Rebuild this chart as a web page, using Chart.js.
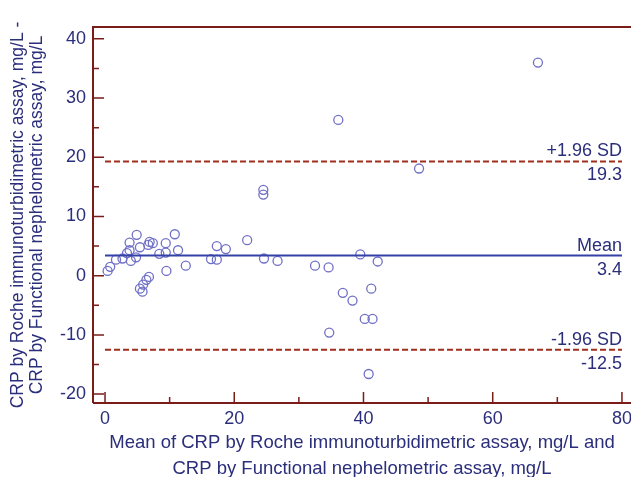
<!DOCTYPE html>
<html>
<head>
<meta charset="utf-8">
<script src="https://cdn.jsdelivr.net/npm/chart.js@4/dist/chart.umd.min.js"></script>
<style>
  html, body { margin: 0; padding: 0; background: #fff; }
  #wrap { width: 631px; height: 477px; position: relative; }
</style>
</head>
<body>
<div id="wrap"><canvas id="bland"></canvas></div>
<script>
// Mean of the two assays (x) and their difference (y)
const meanValues = [
  0.4, 0.8, 1.7, 2.7, 3.4, 3.8, 4.0, 3.8, 4.9, 4.8,
  5.4, 6.7, 6.9, 7.4, 6.8, 6.4, 5.9, 5.4, 5.8, 8.4,
  9.4, 9.4, 10.8, 11.3, 9.5, 12.5, 16.4, 17.3, 17.3, 18.7,
  22.0, 24.5, 24.5, 24.6, 26.7, 32.5, 34.6, 36.1, 39.5, 42.2,
  41.2, 36.8, 38.3, 40.2, 41.4, 34.7, 40.8, 48.6, 67.0
];
const diffValues = [
  0.8, 1.5, 2.7, 2.9, 3.8, 4.3, 2.5, 5.6, 6.9, 3.1,
  4.8, 5.2, 5.7, 5.5, -0.2, -0.7, -1.5, -2.2, -2.7, 3.7,
  5.5, 3.9, 7.0, 4.3, 0.8, 1.7, 2.8, 5.0, 2.7, 4.5,
  6.0, 14.5, 13.7, 2.9, 2.5, 1.7, 1.4, 26.3, 3.6, 2.4,
  -2.2, -2.9, -4.2, -7.3, -7.3, -9.6, -16.6, 18.1, 36.0
];

// Reference lines: name, value
const limitNames = ['+1.96 SD', 'Mean', '-1.96 SD'];
const limitValues = [19.3, 3.4, -12.5];
const limitSpan = [0, 80];

const xTicks = [0, 20, 40, 60, 80];
const yTicks = [-20, -10, 0, 10, 20, 30, 40];

const NAVY = '#2b2e7a';
const FRAME = '#7a1c18';
const FONT = '"Liberation Sans", Arial, Helvetica, sans-serif';

const points = meanValues.map((x, i) => ({ x: x, y: diffValues[i] }));

const limitSets = limitValues.map((v, i) => ({
  type: 'line',
  label: limitNames[i],
  data: limitSpan.map(x => ({ x: x, y: v })),
  borderColor: i === 1 ? '#3441a6' : '#a12d1c',
  borderWidth: 2,
  borderDash: i === 1 ? [] : [6, 3],
  pointRadius: 0,
  fill: false
}));

// axis frame with inward ticks
const framePlugin = {
  id: 'frame',
  afterDatasetsDraw(chart) {
    const { ctx, chartArea: a, scales: { x, y } } = chart;
    ctx.save();
    ctx.strokeStyle = FRAME;
    ctx.lineWidth = 2;
    ctx.beginPath();
    ctx.moveTo(a.left, a.bottom);
    ctx.lineTo(a.left, a.top);
    ctx.lineTo(a.right, a.top);
    ctx.moveTo(a.left, a.bottom);
    ctx.lineTo(a.right, a.bottom);
    ctx.stroke();

    ctx.lineWidth = 1.5;
    ctx.beginPath();
    for (let v = -20; v <= 40; v += 5) {
      const py = y.getPixelForValue(v);
      const len = v % 10 === 0 ? 11 : 6;
      ctx.moveTo(a.left, py);
      ctx.lineTo(a.left + len, py);
    }
    for (let v = 0; v <= 80; v += 10) {
      const px = x.getPixelForValue(v);
      const len = v % 20 === 0 ? 11 : 6;
      ctx.moveTo(px, a.bottom);
      ctx.lineTo(px, a.bottom - len);
    }
    ctx.stroke();
    ctx.restore();
  }
};

// text labels for the mean and limits of agreement
const limitLabelPlugin = {
  id: 'limitLabels',
  afterDatasetsDraw(chart) {
    const { ctx, scales: { x, y } } = chart;
    const px = x.getPixelForValue(limitSpan[1]);
    ctx.save();
    ctx.fillStyle = NAVY;
    ctx.font = '18px ' + FONT;
    ctx.textAlign = 'right';
    limitValues.forEach((v, i) => {
      const py = y.getPixelForValue(v);
      ctx.textBaseline = 'bottom';
      ctx.fillText(limitNames[i], px, py - 1);
      ctx.textBaseline = 'top';
      ctx.fillText(v.toFixed(1), px, py + 5);
    });
    ctx.restore();
  }
};

new Chart(document.getElementById('bland'), {
  type: 'scatter',
  data: {
    datasets: [
      ...limitSets,
      {
        label: 'Difference',
        data: points,
        pointStyle: 'circle',
        pointRadius: 4.5,
        pointBorderWidth: 1.3,
        borderColor: '#7070c6',
        backgroundColor: 'rgba(0,0,0,0)'
      }
    ]
  },
  options: {
    responsive: true,
    maintainAspectRatio: false,
    animation: false,
    layout: { autoPadding: false, padding: { top: 27, right: 0, left: 0, bottom: 0 } },
    plugins: {
      legend: { display: false },
      tooltip: { enabled: false }
    },
    scales: {
      x: {
        type: 'linear',
        min: -1.86,
        max: 81.4,
        grid: { display: false, drawTicks: false },
        border: { display: false },
        afterBuildTicks: (scale) => { scale.ticks = xTicks.map(v => ({ value: v })); },
        afterFit: (scale) => { scale.height = 74; scale.paddingRight = 0; scale.paddingLeft = 0; },
        ticks: {
          color: NAVY,
          padding: 5,
          maxRotation: 0,
          font: { family: FONT, size: 18 }
        },
        title: {
          display: true,
          text: ['Mean of CRP by Roche immunoturbidimetric assay, mg/L and',
                 'CRP by Functional nephelometric assay, mg/L'],
          color: NAVY,
          font: { family: FONT, size: 18.5, lineHeight: 1.4 },
          padding: { top: 0, bottom: -5 }
        }
      },
      y: {
        type: 'linear',
        min: -21.5,
        max: 42,
        grid: { display: false, drawTicks: false },
        border: { display: false },
        afterBuildTicks: (scale) => { scale.ticks = yTicks.map(v => ({ value: v })); },
        afterFit: (scale) => { scale.width = 93; },
        ticks: {
          color: NAVY,
          padding: 7,
          font: { family: FONT, size: 18 }
        },
        title: {
          display: true,
          text: ['CRP by Roche immunoturbidimetric assay, mg/L -',
                 'CRP by Functional nephelometric assay, mg/L'],
          color: NAVY,
          font: { family: FONT, size: 17.5, lineHeight: 1.08 },
          padding: { top: 9, bottom: 0 }
        }
      }
    }
  },
  plugins: [framePlugin, limitLabelPlugin]
});
</script>
</body>
</html>
